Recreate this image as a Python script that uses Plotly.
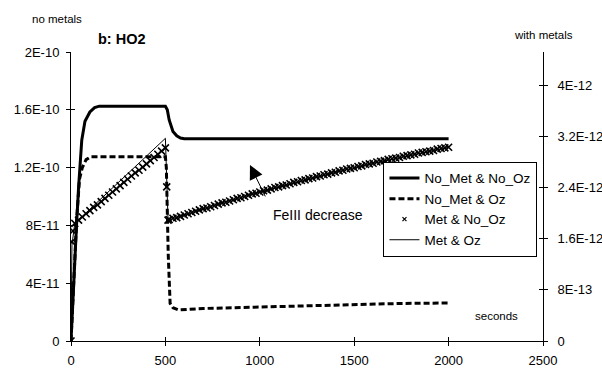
import plotly.graph_objects as go

# ---- data ---------------------------------------------------------------
# Series without metals (left axis)
t_nomet_nooz = [0, 10, 20, 30, 40, 57, 74, 100, 125, 150, 500, 510, 520, 530,
                540, 560, 580, 600, 2000]
v_nomet_nooz = [0, 0.30e-10, 0.56e-10, 0.82e-10, 1.06e-10, 1.39e-10, 1.52e-10,
                1.585e-10, 1.615e-10, 1.625e-10, 1.625e-10, 1.60e-10, 1.53e-10,
                1.48e-10, 1.45e-10, 1.42e-10, 1.405e-10, 1.40e-10, 1.40e-10]

t_nomet_oz = [0, 10, 20, 30, 45, 60, 80, 104, 500, 505, 515, 525, 540, 570,
              700, 1000, 1300, 1600, 1750, 2000]
v_nomet_oz = [0, 0.30e-10, 0.58e-10, 0.84e-10, 1.12e-10, 1.20e-10, 1.255e-10,
              1.275e-10, 1.275e-10, 1.20e-10, 0.60e-10, 0.26e-10, 0.23e-10,
              0.215e-10, 0.225e-10, 0.235e-10, 0.245e-10, 0.255e-10, 0.26e-10,
              0.263e-10]

# Series with metals (right axis), values in units of 1E-12
t_met_nooz = [0, 5, 10] + list(range(20, 501, 20)) + [507, 514] + list(range(520, 2001, 20))
v_met_nooz_e12 = [
    0, 1.55, 1.72,
    1.84, 1.89, 1.94, 1.99, 2.04,
    2.09, 2.13, 2.18, 2.23, 2.28,
    2.33, 2.38, 2.43, 2.48, 2.53,
    2.58, 2.63, 2.67, 2.72, 2.77,
    2.82, 2.87, 2.92, 2.97, 3.02,
    2.41, 1.89,
    1.90, 1.92, 1.93, 1.95, 1.97,
    1.99, 2.01, 2.03, 2.05, 2.07,
    2.08, 2.10, 2.12, 2.14, 2.16,
    2.17, 2.19, 2.21, 2.23, 2.24,
    2.26, 2.28, 2.30, 2.31, 2.33,
    2.35, 2.36, 2.38, 2.40, 2.41,
    2.43, 2.44, 2.46, 2.48, 2.49,
    2.51, 2.52, 2.54, 2.55, 2.57,
    2.58, 2.60, 2.61, 2.63, 2.64,
    2.66, 2.67, 2.69, 2.70, 2.71,
    2.73, 2.74, 2.76, 2.77, 2.78,
    2.80, 2.81, 2.82, 2.84, 2.85,
    2.86, 2.87, 2.89, 2.90, 2.91,
    2.92, 2.94, 2.95, 2.96, 2.97,
    2.98, 3.00, 3.01, 3.02, 3.03,
]

t_met_oz = [0, 5, 20, 60, 100, 200, 300, 400, 500, 514, 600, 800, 1000, 1200,
            1400, 1600, 1800, 2000]
v_met_oz_e12 = [0, 1.50, 1.84, 1.95, 2.06, 2.34, 2.62, 2.89, 3.17, 1.89, 1.97,
                2.16, 2.33, 2.49, 2.64, 2.78, 2.91, 3.03]

# Axis ticks
x_ticks = [0, 500, 1000, 1500, 2000, 2500]
y_left_ticks = [0, 4e-11, 8e-11, 1.2e-10, 1.6e-10, 2e-10]
y_left_labels = ["0", "4E-11", "8E-11", "1.2E-10", "1.6E-10", "2E-10"]
y_right_ticks = [0, 8e-13, 1.6e-12, 2.4e-12, 3.2e-12, 4e-12]
y_right_labels = ["0", "8E-13", "1.6E-12", "2.4E-12", "3.2E-12", "4E-12"]

# ---- figure -------------------------------------------------------------
FONT = "Liberation Sans, Arial, sans-serif"
fig = go.Figure()

fig.add_trace(go.Scatter(
    x=t_nomet_nooz, y=v_nomet_nooz, name="No_Met & No_Oz", mode="lines",
    line=dict(color="black", width=3), yaxis="y"))
fig.add_trace(go.Scatter(
    x=t_nomet_oz, y=v_nomet_oz, name="No_Met & Oz", mode="lines",
    line=dict(color="black", width=3, dash="6px,3px"), yaxis="y"))
# dense cross markers; legend entry is drawn by a small proxy below
fig.add_trace(go.Scatter(
    x=t_met_nooz, y=[v * 1e-12 for v in v_met_nooz_e12], name="Met & No_Oz",
    mode="markers", showlegend=False, legendgroup="metnooz",
    marker=dict(symbol="x-thin", size=7, line=dict(color="black", width=1.6),
                color="black"),
    yaxis="y2"))
fig.add_trace(go.Scatter(
    x=[None], y=[None], name="Met & No_Oz", mode="markers",
    legendgroup="metnooz",
    marker=dict(symbol="x-thin", size=4, line=dict(color="black", width=1.2),
                color="black"),
    yaxis="y2"))
fig.add_trace(go.Scatter(
    x=t_met_oz, y=[v * 1e-12 for v in v_met_oz_e12], name="Met & Oz",
    mode="lines", line=dict(color="black", width=1), yaxis="y2"))

# empty traces that carry the inner halves of the cross-shaped ticks
fig.add_trace(go.Scatter(x=[None], y=[None], xaxis="x2", yaxis="y3",
                         showlegend=False, hoverinfo="skip"))
fig.add_trace(go.Scatter(x=[None], y=[None], xaxis="x2", yaxis="y4",
                         showlegend=False, hoverinfo="skip"))

X_RANGE = [0, 2500]
YL_RANGE = [0, 2e-10]
YR_RANGE = [0, 4.52e-12]
tick_font = dict(family=FONT, size=13, color="black")

fig.update_layout(
    width=602, height=369,
    margin=dict(l=71, r=59, t=52, b=28, autoexpand=False),
    paper_bgcolor="white", plot_bgcolor="white",
    font=dict(family=FONT, size=13, color="black"),
    xaxis=dict(range=X_RANGE, tickvals=x_ticks, showgrid=False, zeroline=False,
               showline=True, linecolor="black", linewidth=1,
               ticks="outside", ticklen=4, tickcolor="black", tickwidth=1,
               tickfont=tick_font, ticklabelstandoff=3, automargin=False),
    xaxis2=dict(range=X_RANGE, tickvals=x_ticks, overlaying="x", anchor="y",
                showgrid=False, zeroline=False, showline=False,
                ticks="inside", ticklen=4, tickcolor="black", tickwidth=1,
                showticklabels=False, automargin=False),
    yaxis=dict(range=YL_RANGE, tickvals=y_left_ticks, ticktext=y_left_labels,
               showgrid=False, zeroline=False, showline=True,
               linecolor="black", linewidth=1, ticks="outside", ticklen=4,
               tickcolor="black", tickwidth=1, tickfont=tick_font,
               ticklabelstandoff=4, automargin=False),
    yaxis2=dict(range=YR_RANGE, tickvals=y_right_ticks, ticktext=y_right_labels,
                overlaying="y", side="right", anchor="x",
                showgrid=False, zeroline=False, showline=True,
                linecolor="black", linewidth=1, ticks="outside", ticklen=4,
                tickcolor="black", tickwidth=1, tickfont=tick_font,
                ticklabelstandoff=7, automargin=False),
    yaxis3=dict(range=YL_RANGE, tickvals=y_left_ticks, overlaying="y",
                side="left", anchor="x2", showgrid=False, zeroline=False,
                showline=False, ticks="inside", ticklen=4, tickcolor="black",
                tickwidth=1, showticklabels=False, automargin=False),
    yaxis4=dict(range=YR_RANGE, tickvals=y_right_ticks, overlaying="y",
                side="right", anchor="x2", showgrid=False, zeroline=False,
                showline=False, ticks="inside", ticklen=4, tickcolor="black",
                tickwidth=1, showticklabels=False, automargin=False),
    legend=dict(x=0.662, y=0.62, xanchor="left", yanchor="top",
                bgcolor="white", bordercolor="black", borderwidth=1,
                font=dict(family=FONT, size=13.5, color="black"),
                tracegroupgap=0),
    showlegend=True,
)

# axis captions and panel title
fig.add_annotation(text="no metals", xref="paper", yref="paper", x=-0.0297,
                   y=1.114, showarrow=False, xanchor="center", yanchor="middle",
                   font=dict(family=FONT, size=11.5, color="black"))
fig.add_annotation(text="<b>b: HO2</b>", xref="paper", yref="paper", x=0.108,
                   y=1.045, showarrow=False, xanchor="center", yanchor="middle",
                   font=dict(family=FONT, size=14.5, color="black"))
fig.add_annotation(text="with metals", xref="paper", yref="paper", x=1.002,
                   y=1.059, showarrow=False, xanchor="center", yanchor="middle",
                   font=dict(family=FONT, size=11.5, color="black"))
fig.add_annotation(text="seconds", xref="paper", yref="paper", x=0.9025,
                   y=0.0865, showarrow=False, xanchor="center", yanchor="middle",
                   font=dict(family=FONT, size=11.5, color="black"))

# FeIII note with its arrow
fig.add_annotation(text="FeIII decrease", xref="x", yref="y", x=1310, y=8.7e-11,
                   showarrow=False, xanchor="center", yanchor="middle",
                   font=dict(family=FONT, size=14, color="black"))
fig.add_annotation(text="", xref="x", yref="y", x=948, y=1.218e-10,
                   axref="x", ayref="y", ax=1033, ay=0.99e-10,
                   showarrow=True, arrowhead=2, arrowsize=2.8, arrowwidth=1,
                   arrowcolor="black")

fig.write_html("out.html")
